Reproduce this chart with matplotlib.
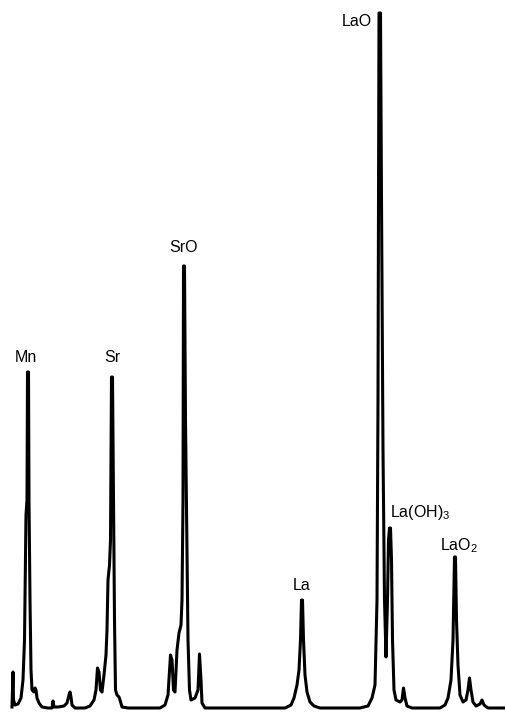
import matplotlib
matplotlib.use("Agg")
import matplotlib.pyplot as plt

plt.rcParams['font.family'] = ['Liberation Sans', 'DejaVu Sans']
plt.rcParams['mathtext.fontset'] = 'custom'
plt.rcParams['mathtext.rm'] = 'Liberation Sans'
plt.rcParams['mathtext.it'] = 'Liberation Sans'

BASE = 708  # baseline in picture rows

# trace points: channel position and picture row
trace_x = [12, 13, 13.5, 15, 18, 21, 23, 24.5, 25.5, 26, 27, 27.5, 28.5, 29, 30, 31, 32, 34, 35, 36, 37, 39, 42, 48, 52, 53, 54, 58, 64, 67, 69, 70, 71, 72, 75,
           85, 90, 94, 96, 97.5, 99, 100.5, 102, 104, 106, 107, 108, 109.5, 110.5, 111.5, 112.5, 113.5, 114.5, 115.5, 117, 119, 120, 122, 128,
           160, 165, 168, 170.5, 172, 173.5, 175, 177, 179, 181, 182, 183, 183.5, 184.5, 185.5, 187, 188, 189.5, 191, 195, 198, 199.5, 201, 202, 205,
           285, 291, 294, 297, 299, 300.5, 301.5, 302.5, 303.5, 305, 307, 310, 314, 320,
           360, 368, 372, 375, 377, 378, 379, 380.5, 381.5, 383, 384.5, 386, 387.5, 388.5, 389.5, 390.5, 391.5, 392.5, 394, 396, 400, 402, 403.5, 405, 407, 412,
           440, 445, 448, 451, 453, 454.5, 455.5, 456.5, 458, 460, 463, 466, 468, 469.5, 471, 473, 476, 480, 482, 484, 488, 505]
trace_row = [707, 672, 700, 705, 704, 698, 680, 640, 560, 515, 500, 372, 372, 500, 600, 670, 690, 692, 688, 690, 698, 703, 707, 708, 708, 701, 707, 707, 706, 703, 695, 692, 697, 705, 708,
             708, 706, 700, 690, 668, 672, 690, 692, 675, 655, 630, 580, 565, 540, 377, 377, 500, 620, 690, 695, 697, 700, 707, 708,
             708, 705, 695, 655, 660, 690, 692, 650, 633, 625, 600, 500, 266, 266, 420, 550, 640, 690, 700, 698, 690, 654, 680, 703, 708,
             708, 705, 698, 685, 670, 640, 600, 600, 640, 675, 692, 702, 706, 708,
             708, 706, 698, 685, 600, 400, 13, 13, 200, 450, 600, 657, 600, 540, 528, 528, 560, 640, 690, 700, 702, 700, 688, 698, 706, 708,
             708, 705, 698, 680, 640, 557, 557, 620, 665, 695, 702, 700, 690, 678, 690, 702, 706, 704, 700, 705, 708, 708]
intensity = [BASE - r for r in trace_row]

# peak labels
labels = ['Mn', 'Sr', 'SrO', 'La', 'LaO', 'La(OH)$_3$', 'LaO$_2$']
label_x = [26, 112, 184, 302, 357, 390, 459]
label_row = [357, 357, 248, 586, 22, 512, 546]
label_ha = ['center', 'center', 'center', 'center', 'center', 'left', 'center']

fig = plt.figure(figsize=(5.05, 7.13), dpi=100)
ax = fig.add_axes([0, 0, 1, 1])
ax.plot(trace_x, intensity, color='black', lw=2.2, solid_joinstyle='round')
for t, x, r, ha in zip(labels, label_x, label_row, label_ha):
    ax.text(x, BASE - r, t, ha=ha, va='center', fontsize=11.5, color='black')
ax.set_xlim(0, 505)
ax.set_ylim(BASE - 713, BASE)
ax.axis('off')
fig.savefig('out.png', dpi=100, facecolor='white')
